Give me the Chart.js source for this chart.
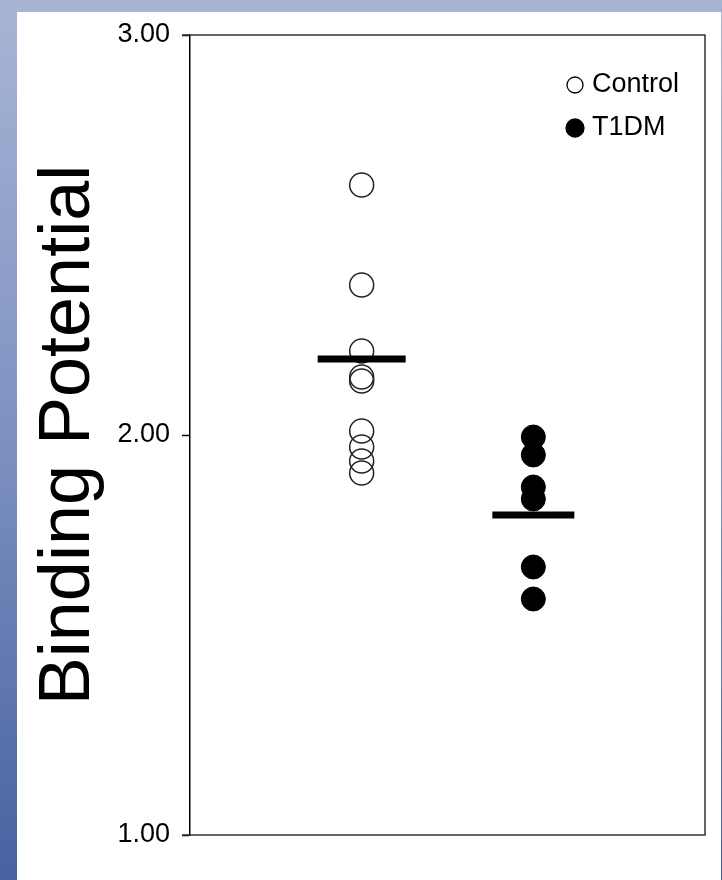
<!DOCTYPE html>
<html>
<head>
<meta charset="utf-8">
<script src="https://cdn.jsdelivr.net/npm/chart.js@4.4.1/dist/chart.umd.min.js"></script>
<style>
  html, body { margin: 0; padding: 0; }
  body {
    width: 722px; height: 880px; position: relative; overflow: hidden;
    background: linear-gradient(180deg, #a7b5d5 0%, #7d91c1 50%, #4862a0 100%);
  }
  #panel { position: absolute; left: 17px; top: 12px; width: 704px; height: 868px; background: #fff; }
  #chart { position: absolute; left: 0; top: 0; }
</style>
</head>
<body>
<div id="panel"></div>
<canvas id="chart" width="722" height="880"></canvas>
<script>
'use strict';

// ── Data ─────────────────────────────────────────────────────────────────────

const categories    = ['Control', 'T1DM'];
const controlValues = [2.625, 2.375, 2.21, 2.145, 2.135, 2.01, 1.97, 1.935, 1.905];
const t1dmValues    = [1.995, 1.95, 1.87, 1.84, 1.67, 1.59];
const groupMeans    = [2.19, 1.80];

const yTickValues = [1, 2, 3];
const yTickLabels = ['1.00', '2.00', '3.00'];
const yAxisTitle  = 'Binding Potential';

// ── Helpers ──────────────────────────────────────────────────────────────────

const FONT = "'Liberation Sans', Arial, sans-serif";
Chart.defaults.font.family = FONT;
Chart.defaults.color = '#000';

// category index → x position (Control at 1, T1DM at 2 on a 0..3 axis)
const toPoints = (vals, catIdx) => vals.map(v => ({ x: catIdx + 1, y: v }));

// ── Plugins ──────────────────────────────────────────────────────────────────

// top / right / bottom sides of the plot frame
const framePlugin = {
  id: 'frame',
  afterDraw(chart) {
    const { ctx, chartArea: a } = chart;
    ctx.save();
    ctx.lineWidth = 1.5;
    ctx.strokeStyle = '#333';
    ctx.beginPath();
    ctx.moveTo(a.left - 8, a.top);
    ctx.lineTo(a.right, a.top);
    ctx.lineTo(a.right, a.bottom);
    ctx.lineTo(a.left - 8, a.bottom);
    ctx.stroke();
    ctx.restore();
  },
};

// small legend inside the plot, top-right
const insideLegend = {
  id: 'insideLegend',
  afterDraw(chart) {
    const { ctx, chartArea: a } = chart;
    const items = chart.data.datasets.filter(d => categories.includes(d.label));
    ctx.save();
    ctx.font = '27px ' + FONT;
    ctx.textBaseline = 'middle';
    ctx.textAlign = 'left';
    items.forEach((d, i) => {
      const y = a.top + 50 + i * 43;
      const x = a.right - 130;
      ctx.beginPath();
      ctx.arc(x, y, d.filled ? 9 : 8, 0, Math.PI * 2);
      ctx.lineWidth = 1.3;
      ctx.strokeStyle = '#000';
      if (d.filled) { ctx.fillStyle = '#000'; ctx.fill(); }
      ctx.stroke();
      ctx.fillStyle = '#000';
      ctx.fillText(d.label, x + 17, y);
    });
    ctx.restore();
  },
};

// ── Chart ────────────────────────────────────────────────────────────────────

new Chart(document.getElementById('chart'), {
  type: 'scatter',
  data: {
    datasets: [
      {
        label: 'Mean',
        data: groupMeans.map((v, i) => ({ x: i + 1, y: v })),
        pointStyle: 'line',
        pointRadius: [44, 41],
        pointBorderWidth: 7,
        pointBorderColor: '#000',
        order: 0,
      },
      {
        label: categories[0],
        data: toPoints(controlValues, 0),
        pointRadius: 12,
        pointBorderWidth: 1.5,
        pointBorderColor: '#222',
        pointBackgroundColor: 'rgba(0,0,0,0)',
        filled: false,
        order: 1,
      },
      {
        label: categories[1],
        data: toPoints(t1dmValues, 1),
        pointRadius: 12,
        pointBorderWidth: 1,
        pointBorderColor: '#000',
        pointBackgroundColor: '#000',
        filled: true,
        order: 1,
      },
    ],
  },
  options: {
    responsive: false,
    animation: false,
    events: [],
    layout: {
      autoPadding: false,
      padding: { left: 17, top: 35, right: 17, bottom: 45 },
    },
    scales: {
      x: { type: 'linear', min: 0, max: 3, display: false },
      y: {
        min: 1,
        max: 3,
        afterFit: s => { s.width = 173; },
        afterBuildTicks: s => { s.ticks = yTickValues.map(v => ({ value: v })); },
        ticks: {
          padding: 12,
          font: { size: 27 },
          color: '#000',
          callback: v => yTickLabels[yTickValues.indexOf(v)],
        },
        grid: {
          drawOnChartArea: false,
          drawTicks: true,
          tickLength: 8,
          tickWidth: 1.5,
          tickColor: '#000',
        },
        border: { display: true, color: '#000', width: 1.5 },
        title: {
          display: true,
          text: yAxisTitle,
          font: { size: 72 },
          color: '#000',
          padding: { top: 9, bottom: 0 },
        },
      },
    },
    plugins: {
      legend: { display: false },
      tooltip: { enabled: false },
    },
  },
  plugins: [framePlugin, insideLegend],
});
</script>
</body>
</html>
